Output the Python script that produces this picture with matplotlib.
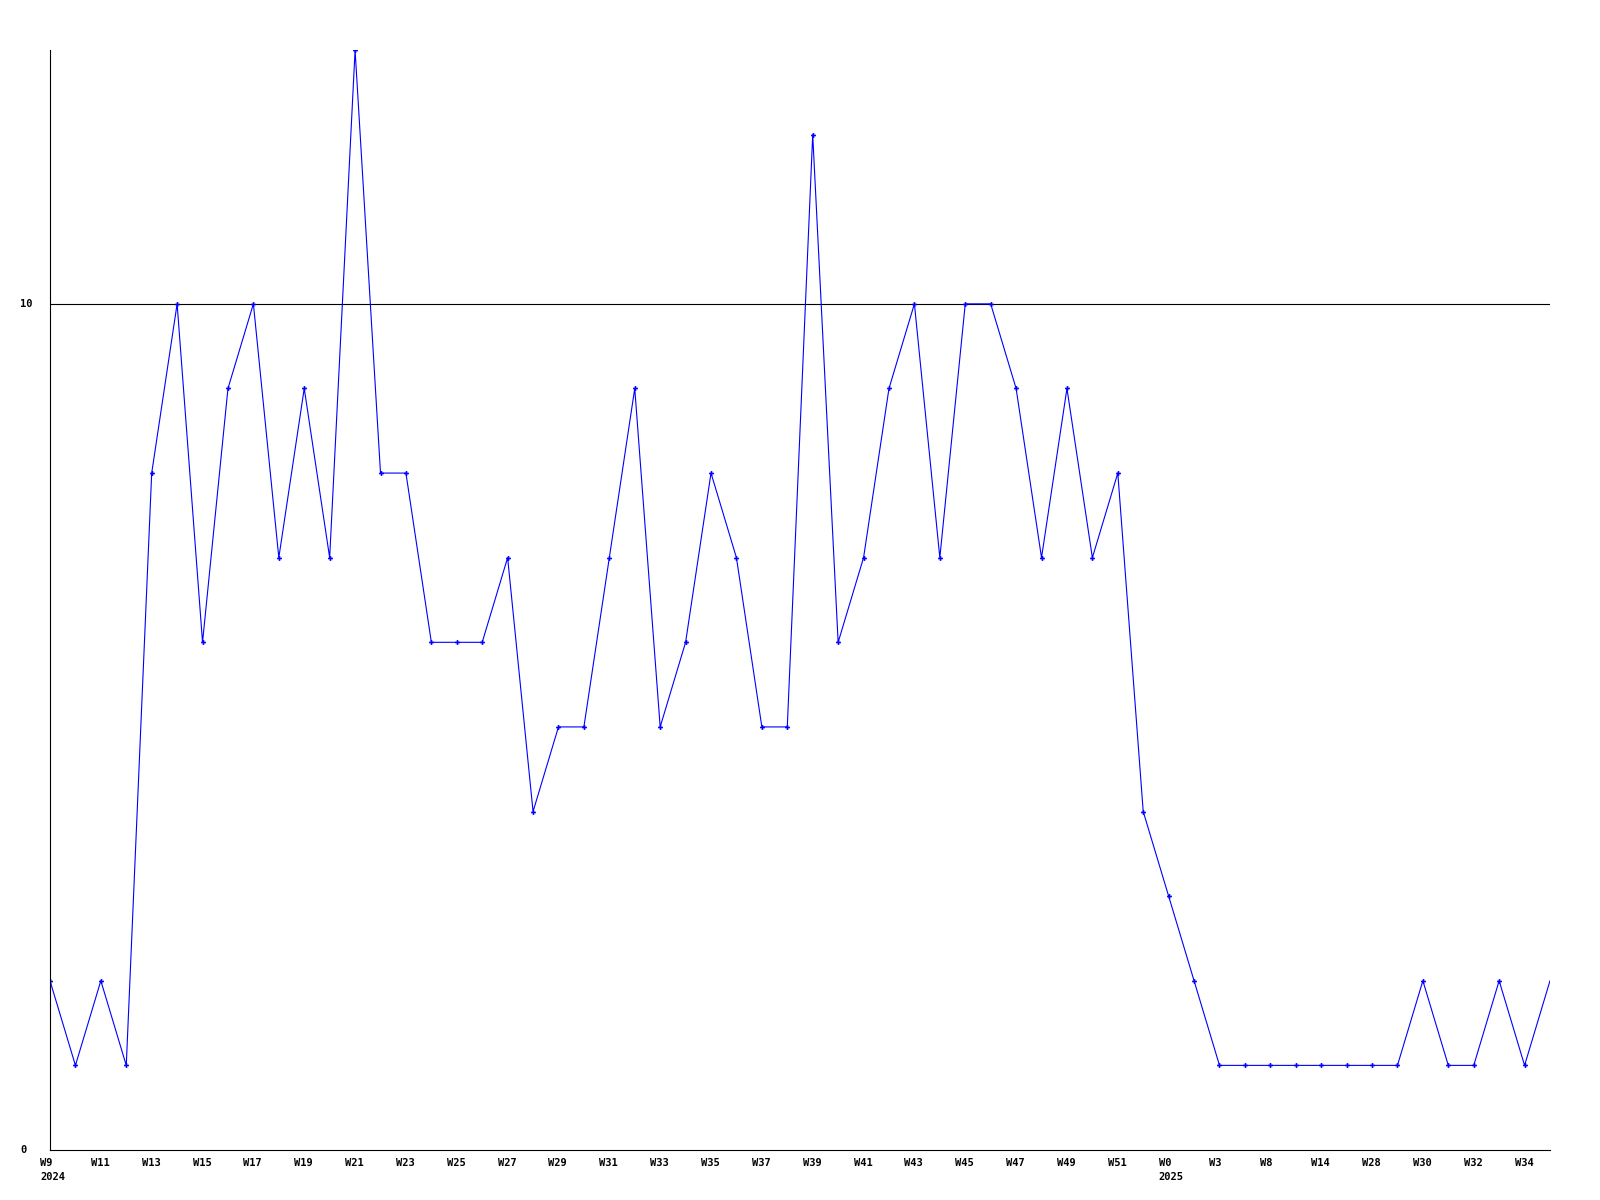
import matplotlib
matplotlib.use("Agg")
import matplotlib.pyplot as plt
import matplotlib.transforms as mtransforms

weeks = ["W9", "W10", "W11", "W12", "W13", "W14", "W15", "W16", "W17", "W18",
         "W19", "W20", "W21", "W22", "W23", "W24", "W25", "W26", "W27", "W28",
         "W29", "W30", "W31", "W32", "W33", "W34", "W35", "W36", "W37", "W38",
         "W39", "W40", "W41", "W42", "W43", "W44", "W45", "W46", "W47", "W48",
         "W49", "W50", "W51", "W52", "W0", "W1", "W3", "W5", "W8", "W10",
         "W14", "W20", "W28", "W29", "W30", "W31", "W32", "W33", "W34", "W35"]
years = {0: "2024", 44: "2025"}
values = [2, 1, 2, 1, 8, 10, 6, 9, 10, 7,
          9, 7, 13, 8, 8, 6, 6, 6, 7, 4,
          5, 5, 7, 9, 5, 6, 8, 7, 5, 5,
          12, 6, 7, 9, 10, 7, 10, 10, 9, 7,
          9, 7, 8, 4, 3, 2, 1, 1, 1, 1,
          1, 1, 1, 1, 2, 1, 1, 2, 1, 2]
yticks = [0, 10]

fig = plt.figure(figsize=(16, 12), dpi=100)
ax = fig.add_axes([50 / 1600, 50 / 1200, 1500 / 1600, 1100 / 1200])

x = list(range(len(values)))
ax.plot(x, values, color="#0000ff", lw=0.8)
# last (current) week has no marker
ax.plot(x[:-1], values[:-1], ls="none", marker="P", ms=3.5, color="#0000ff", mew=0)

ax.axhline(10, color="black", lw=0.8, zorder=0)
ax.set_xlim(0, len(values) - 1)
ax.set_ylim(0, 13)

for s in ["top", "right"]:
    ax.spines[s].set_visible(False)
ax.spines["left"].set_linewidth(0.8)
ax.spines["bottom"].set_linewidth(0.8)

font = dict(family="DejaVu Sans Mono", weight="bold", size=7.5)

tick_pos = x[::2]
labels = []
for i in tick_pos:
    lab = weeks[i]
    if i in years:
        lab += "\n" + years[i]
    labels.append(lab)
ax.set_xticks(tick_pos)
ax.set_xticklabels(labels, ha="left", va="top", linespacing=1.5, **font)
ax.tick_params(axis="x", length=0, pad=6)
off = mtransforms.ScaledTranslation(-10 / 100, 0, fig.dpi_scale_trans)
for t in ax.get_xticklabels():
    t.set_transform(t.get_transform() + off)

ax.set_yticks(yticks)
ax.set_yticklabels([str(v) for v in yticks], ha="left", va="center", **font)
ax.tick_params(axis="y", length=0, pad=0)
yoff = mtransforms.ScaledTranslation(-30 / 100, 0, fig.dpi_scale_trans)
for t in ax.get_yticklabels():
    t.set_transform(t.get_transform() + yoff)

fig.savefig("out.png", dpi=100)
